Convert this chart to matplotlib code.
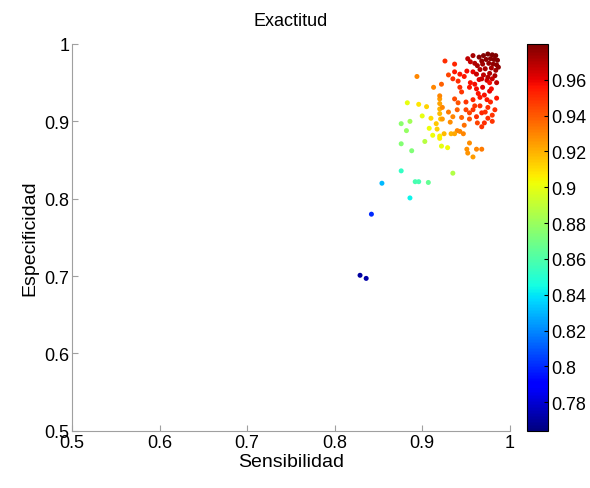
import matplotlib
matplotlib.use("Agg")
import matplotlib.pyplot as plt
import numpy as np

plt.rcParams['font.family'] = ['Liberation Sans', 'DejaVu Sans']

# sensibilidad, especificidad, exactitud
sens = [0.829, 0.836, 0.842, 0.854, 0.886, 0.876, 0.892, 0.896, 0.907, 0.935,
        0.876, 0.888, 0.903, 0.876, 0.886, 0.882,
        0.883, 0.896, 0.905, 0.900, 0.910, 0.908, 0.916, 0.917, 0.912, 0.920,
        0.922, 0.929, 0.920,
        0.920, 0.920, 0.920, 0.920, 0.921,
        0.894, 0.913, 0.922, 0.926, 0.937, 0.952,
        0.937, 0.943, 0.951, 0.958, 0.935, 0.941,
        0.954, 0.962, 0.969, 0.977, 0.943, 0.945, 0.966, 0.974,
        0.920, 0.937, 0.941, 0.950, 0.954, 0.923,
        0.962, 0.968, 0.971, 0.968, 0.954,
        0.923, 0.935, 0.932, 0.940, 0.943, 0.947,
        0.925, 0.933, 0.937, 0.954, 0.951, 0.952, 0.962, 0.968, 0.958,
        0.965, 0.970, 0.975, 0.980, 0.984,
        0.968, 0.973, 0.978, 0.982, 0.986,
        0.963, 0.969, 0.976, 0.981, 0.985,
        0.966, 0.972, 0.979, 0.984,
        0.962, 0.970, 0.977, 0.983,
        0.965, 0.974, 0.980, 0.985,
        0.960, 0.958, 0.955,
        0.977, 0.979,
        0.960, 0.975, 0.980, 0.978, 0.985, 0.983, 0.930,
        0.948, 0.955, 0.960, 0.964, 0.971, 0.958, 0.950, 0.966, 0.972, 0.958,
        0.980, 0.975, 0.963,
        0.940, 0.945, 0.930, 0.948,
        0.987, 0.975, 0.968]
spec = [0.701, 0.697, 0.780, 0.820, 0.801, 0.836, 0.822, 0.822, 0.821, 0.833,
        0.871, 0.862, 0.874, 0.897, 0.900, 0.888,
        0.924, 0.922, 0.919, 0.907, 0.904, 0.891, 0.897, 0.890, 0.882, 0.881,
        0.868, 0.866, 0.878,
        0.929, 0.923, 0.916, 0.910, 0.903,
        0.958, 0.944, 0.948, 0.978, 0.974, 0.981,
        0.964, 0.961, 0.965, 0.964, 0.955, 0.952,
        0.944, 0.942, 0.944, 0.939, 0.944, 0.938, 0.931, 0.928,
        0.933, 0.929, 0.924, 0.915, 0.911, 0.918,
        0.906, 0.911, 0.898, 0.893, 0.903,
        0.903, 0.906, 0.899, 0.888, 0.887, 0.884,
        0.884, 0.884, 0.884, 0.872, 0.864, 0.859, 0.864, 0.864, 0.854,
        0.983, 0.985, 0.987, 0.986, 0.985,
        0.978, 0.980, 0.981, 0.980, 0.979,
        0.972, 0.974, 0.975, 0.974, 0.973,
        0.967, 0.968, 0.969, 0.966,
        0.961, 0.960, 0.962, 0.959,
        0.954, 0.953, 0.955, 0.950,
        0.975, 0.985, 0.977,
        0.950, 0.942,
        0.920, 0.918, 0.908, 0.925, 0.930, 0.915, 0.960,
        0.958, 0.950, 0.948, 0.936, 0.934, 0.928, 0.925, 0.920, 0.912, 0.915,
        0.900, 0.904, 0.898,
        0.915, 0.905, 0.912, 0.895,
        0.970, 0.957, 0.955]
acc = [0.770, 0.772, 0.800, 0.830, 0.843, 0.853, 0.858, 0.858, 0.866, 0.886,
       0.874, 0.873, 0.888, 0.876, 0.882, 0.878,
       0.900, 0.908, 0.912, 0.900, 0.910, 0.902, 0.915, 0.913, 0.902, 0.905,
       0.900, 0.903, 0.905,
       0.925, 0.923, 0.920, 0.918, 0.915,
       0.930, 0.930, 0.938, 0.950, 0.952, 0.968,
       0.955, 0.955, 0.958, 0.960, 0.950, 0.950,
       0.955, 0.958, 0.962, 0.960, 0.950, 0.948, 0.955, 0.955,
       0.930, 0.943, 0.942, 0.945, 0.945, 0.930,
       0.950, 0.952, 0.950, 0.948, 0.942,
       0.925, 0.930, 0.928, 0.930, 0.930, 0.930,
       0.918, 0.920, 0.922, 0.928, 0.927, 0.926, 0.930, 0.932, 0.925,
       0.978, 0.979, 0.980, 0.980, 0.980,
       0.976, 0.977, 0.978, 0.979, 0.979,
       0.972, 0.974, 0.975, 0.976, 0.977,
       0.970, 0.972, 0.973, 0.974,
       0.966, 0.968, 0.970, 0.971,
       0.962, 0.965, 0.967, 0.968,
       0.970, 0.972, 0.967,
       0.958, 0.958,
       0.948, 0.950, 0.948, 0.952, 0.955, 0.950, 0.945,
       0.955, 0.957, 0.958, 0.956, 0.957, 0.952, 0.948, 0.950, 0.950, 0.948,
       0.948, 0.950, 0.945,
       0.938, 0.937, 0.932, 0.935,
       0.977, 0.970, 0.966]

fig = plt.figure(figsize=(5.9, 4.89), dpi=100)
ax = fig.add_axes([0.122, 0.117, 0.742, 0.791])
cax = fig.add_axes([0.893, 0.117, 0.036, 0.791])

sc = ax.scatter(sens, spec, c=acc, cmap='jet', vmin=0.764, vmax=0.980,
                s=13, edgecolors='none')

ax.set_xlim(0.5, 1)
ax.set_ylim(0.5, 1)
ticks = [0.5, 0.6, 0.7, 0.8, 0.9, 1]
ax.set_xticks(ticks)
ax.set_yticks(ticks)
ax.set_xticklabels(['%g' % t for t in ticks])
ax.set_yticklabels(['%g' % t for t in ticks])
for s in ['top', 'right']:
    ax.spines[s].set_visible(False)
for s in ['left', 'bottom']:
    ax.spines[s].set_color('#a0a0a0')
ax.tick_params(direction='in', length=4, color='#a0a0a0', labelsize=13, pad=2)

ax.set_title('Exactitud', fontsize=13, pad=14)
ax.set_xlabel('Sensibilidad', fontsize=14, labelpad=2)
ax.set_ylabel('Especificidad', fontsize=14, labelpad=4)

cb = fig.colorbar(sc, cax=cax)
cticks = [0.78, 0.80, 0.82, 0.84, 0.86, 0.88, 0.90, 0.92, 0.94, 0.96]
cb.set_ticks(cticks)
cb.set_ticklabels(['%g' % t for t in cticks])
cb.ax.tick_params(direction='in', length=3, labelsize=13, pad=2)
cb.outline.set_linewidth(0.8)

fig.savefig('out.png', dpi=100)
